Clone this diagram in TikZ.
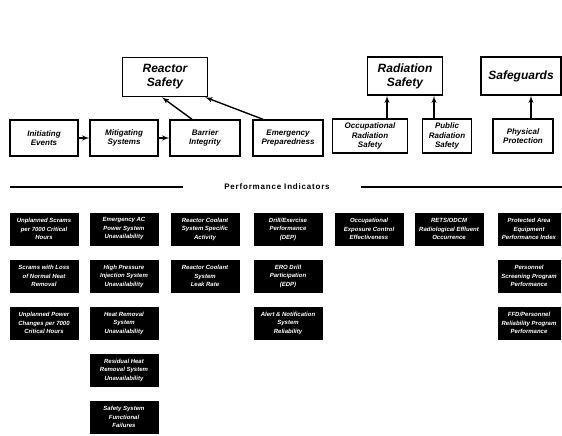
\documentclass[tikz,border=0pt]{standalone}
\usepackage{fontspec}
\setmainfont{Liberation Sans}
\usepackage{tikz}
\usetikzlibrary{shapes,arrows,positioning}

\begin{document}
\begin{tikzpicture}[x=1pt, y=-1pt, auto, node distance=14pt, >=latex']
    \tikzstyle{area} = [draw, rectangle, line width=1.6pt, align=center, inner sep=1pt, font=\fontsize{12}{14}\selectfont\bfseries\itshape]
    \tikzstyle{block} = [draw, rectangle, line width=1.4pt, align=center, inner sep=1pt, minimum height=36pt, font=\fontsize{8}{9.5}\selectfont\bfseries\itshape]
    \tikzstyle{pi} = [draw, line width=1pt, fill=black, text=white, rectangle, align=center, inner sep=1pt, minimum width=68pt, minimum height=32pt, font=\fontsize{6}{8.5}\selectfont\bfseries\itshape]
    \tikzstyle{link} = [->, line width=1.4pt]

    \useasboundingbox (0,0) rectangle (562,436);

    % cornerstone areas
    \node [area, minimum width=85pt, minimum height=39pt] (rs) at (165,77) {Reactor\\Safety};
    \node [area, minimum width=75pt, minimum height=38pt] (rad) at (405,76) {Radiation\\Safety};
    \node [area, minimum width=80pt, minimum height=38pt] (sg) at (521,76) {Safeguards};

    % cornerstones
    \node [block, minimum width=68pt] (ie) at (44,138) {Initiating\\Events};
    \node [block, minimum width=68pt] (ms) at (124,138) {Mitigating\\Systems};
    \node [block, minimum width=70pt] (bi) at (205,138) {Barrier\\Integrity};
    \node [block, minimum width=70pt] (ep) at (288,138) {Emergency\\Preparedness};
    \node [block, minimum width=75pt, minimum height=34pt] (ors) at (370,136) {Occupational\\Radiation\\Safety};
    \node [block, minimum width=49pt, minimum height=34pt] (prs) at (447,136) {Public\\Radiation\\Safety};
    \node [block, minimum width=60pt, minimum height=34pt] (pp) at (523,136) {Physical\\Protection};

    \draw [link] (ie) -- (ms);
    \draw [link] (ms) -- (bi);
    \draw [link] ([xshift=-13pt]bi.north) -- ([xshift=-3pt]rs.south);
    \draw [link] ([xshift=-25pt]ep.north) -- ([xshift=-3pt]rs.south east);
    \draw [link] ([xshift=17pt]ors.north) -- ([xshift=17pt]ors.north |- rad.south);
    \draw [link] ([xshift=-13pt]prs.north) -- ([xshift=-13pt]prs.north |- rad.south);
    \draw [link] ([xshift=8pt]pp.north) -- ([xshift=8pt]pp.north |- sg.south);

    % performance indicators heading
    \node [font=\fontsize{8}{9}\selectfont\bfseries\addfontfeature{LetterSpace=10}] (perf) at (277,187) {Performance Indicators};
    \coordinate (ruleL) at (10,187);
    \coordinate (ruleR) at (562,187);
    \draw [line width=1.6pt] (ruleL) -- ([xshift=-38pt]perf.west);
    \draw [line width=1.6pt] ([xshift=28pt]perf.east) -- (ruleR);

    % indicators
    \node [pi] (ie1) at (44,229) {Unplanned Scrams\\per 7000 Critical\\Hours};
    \node [pi, below=14pt of ie1] (ie2) {Scrams with Loss\\of Normal Heat\\Removal};
    \node [pi, below=14pt of ie2] (ie3) {Unplanned Power\\Changes per 7000\\Critical Hours};

    \node [pi] (ms1) at (124,229) {Emergency AC\\Power System\\Unavailability};
    \node [pi, below=14pt of ms1] (ms2) {High Pressure\\Injection System\\Unavailability};
    \node [pi, below=14pt of ms2] (ms3) {Heat Removal\\System\\Unavailability};
    \node [pi, below=14pt of ms3] (ms4) {Residual Heat\\Removal System\\Unavailability};
    \node [pi, below=14pt of ms4] (ms5) {Safety System\\Functional\\Failures};

    \node [pi] (bi1) at (205,229) {Reactor Coolant\\System Specific\\Activity};
    \node [pi, below=14pt of bi1] (bi2) {Reactor Coolant\\System\\Leak Rate};

    \node [pi] (ep1) at (288,229) {Drill/Exercise\\Performance\\(DEP)};
    \node [pi, below=14pt of ep1] (ep2) {ERO Drill\\Participation\\(EDP)};
    \node [pi, below=14pt of ep2] (ep3) {Alert \& Notification\\System\\Reliability};

    \node [pi] (ors1) at (369,229) {Occupational\\Exposure Control\\Effectiveness};

    \node [pi] (prs1) at (449,229) {RETS/ODCM\\Radiological Effluent\\Occurrence};

    \node [pi, minimum width=62pt] (pp1) at (529,229) {Protected Area\\Equipment\\Performance Index};
    \node [pi, minimum width=62pt, below=14pt of pp1] (pp2) {Personnel\\Screening Program\\Performance};
    \node [pi, minimum width=62pt, below=14pt of pp2] (pp3) {FFD/Personnel\\Reliability Program\\Performance};
\end{tikzpicture}
\end{document}
